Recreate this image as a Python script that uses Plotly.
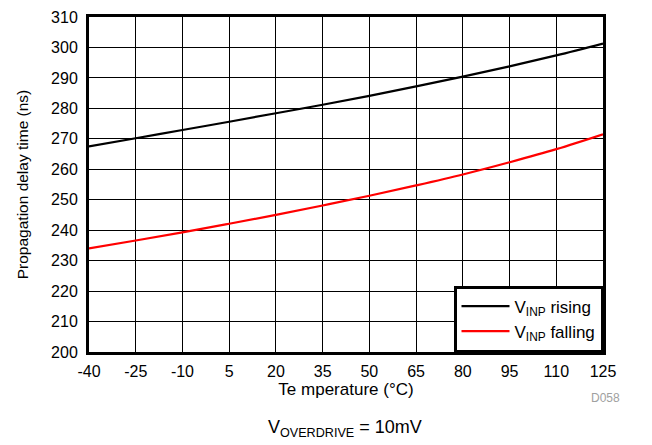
import plotly.graph_objects as go

temperature = [-40, -25, -10, 5, 20, 35, 50, 65, 80, 95, 110, 125]
rising = [267.5, 270.2, 272.9, 275.6, 278.4, 281.2, 284.1, 287.2, 290.4, 293.8, 297.4, 301.3]
falling = [234.0, 236.6, 239.3, 242.1, 245.0, 248.1, 251.3, 254.7, 258.3, 262.3, 266.6, 271.5]
x_ticks = [-40, -25, -10, 5, 20, 35, 50, 65, 80, 95, 110, 125]
y_ticks = list(range(200, 311, 10))

font = "Liberation Sans, Arial, sans-serif"

fig = go.Figure()
fig.add_trace(go.Scatter(x=temperature, y=rising, mode="lines", line=dict(color="black", width=2.2, shape="spline"),
                         name="V<sub>INP</sub> rising"))
fig.add_trace(go.Scatter(x=temperature, y=falling, mode="lines", line=dict(color="#ff0000", width=2.2, shape="spline"),
                         name="V<sub>INP</sub> falling"))

fig.update_layout(
    width=644, height=437,
    margin=dict(l=81, r=49, t=9, b=93, autoexpand=False),
    paper_bgcolor="white", plot_bgcolor="white",
    font=dict(family=font, size=16, color="black"),
    showlegend=True,
    legend=dict(x=1, y=0, xanchor="right", yanchor="bottom", bgcolor="white",
                bordercolor="black", borderwidth=2.5, font=dict(size=17, family=font),
                tracegroupgap=0, itemwidth=48),
    xaxis=dict(range=[-40, 125], tickvals=x_ticks, ticktext=[str(v) for v in x_ticks],
               showgrid=True, gridcolor="black", gridwidth=1, zeroline=False,
               showline=True, linecolor="black", linewidth=3, mirror=True, ticks="",
               tickfont=dict(size=16), ticklabelstandoff=3,
               title=dict(text="Te mperature (°C)", font=dict(size=17), standoff=1)),
    yaxis=dict(range=[200, 310], tickvals=y_ticks, showgrid=True, gridcolor="black", gridwidth=1,
               zeroline=False, showline=True, linecolor="black", linewidth=3, mirror=True, ticks="",
               tickfont=dict(size=16), ticklabelstandoff=5,
               title=dict(text="Propagation delay time (ns)", font=dict(size=15.5), standoff=19)),
    annotations=[
        dict(text="V<sub>OVERDRIVE</sub> = 10mV", xref="paper", yref="paper", x=0.498, y=-0.227,
             xanchor="center", yanchor="middle", showarrow=False, font=dict(size=18, family=font)),
        dict(text="D058", xref="paper", yref="paper", x=1.004, y=-0.137, xanchor="center",
             yanchor="middle", showarrow=False, font=dict(size=12, color="#a0a0a0", family=font)),
    ],
)

fig.write_html("out.html")
